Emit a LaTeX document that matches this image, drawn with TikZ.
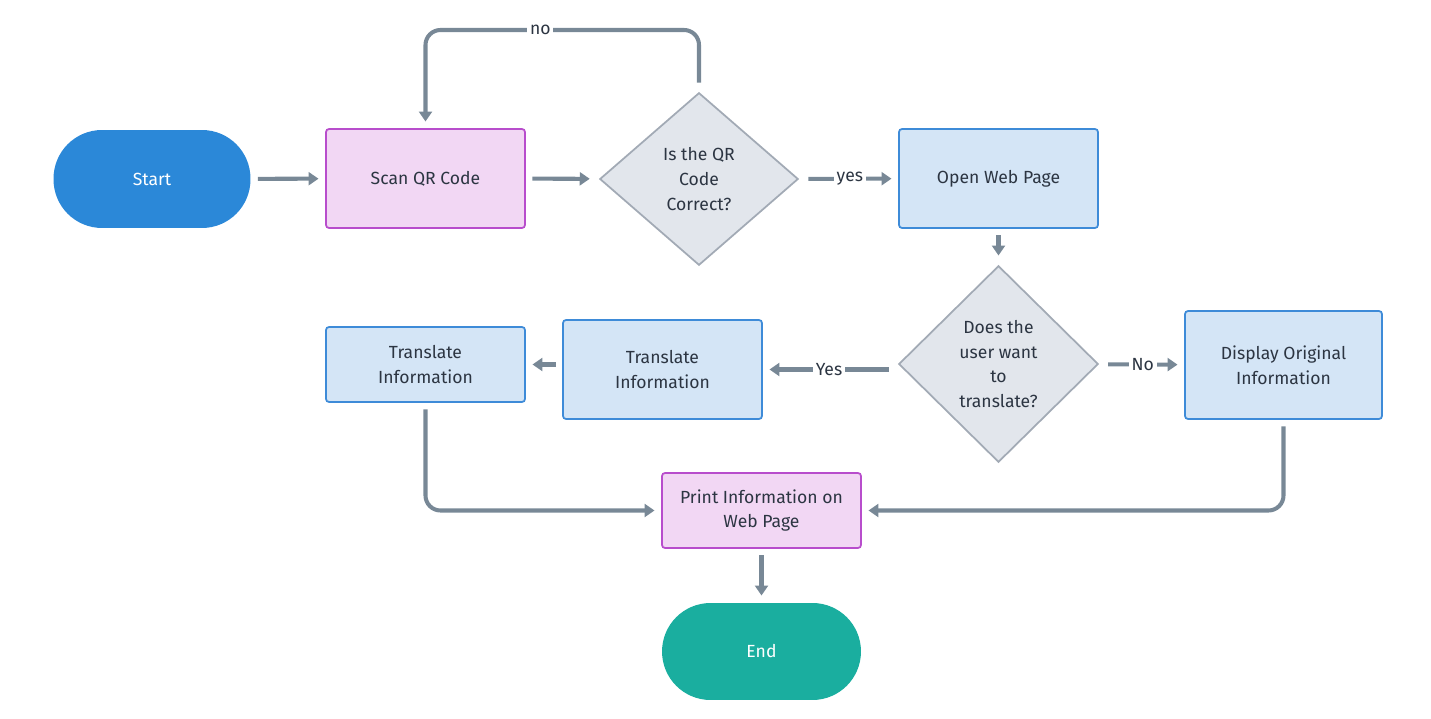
\documentclass[tikz,border=0pt]{standalone}
\usepackage{fontspec}
\setmainfont{Fira Sans}
\usetikzlibrary{shapes.geometric,arrows.meta}

\definecolor{startblue}{HTML}{2B88D8}
\definecolor{endteal}{HTML}{1AAE9F}
\definecolor{pinkfill}{HTML}{F2D7F4}
\definecolor{pinkline}{HTML}{B84DCC}
\definecolor{bluefill}{HTML}{D4E5F6}
\definecolor{blueline}{HTML}{3E8BD8}
\definecolor{greyfill}{HTML}{E2E6EC}
\definecolor{greyline}{HTML}{A2AAB5}
\definecolor{flowline}{HTML}{788896}
\definecolor{txt}{HTML}{2C3542}

\begin{document}
\begin{tikzpicture}[x=0.02cm, y=-0.02cm,
	every node/.style={font=\fontsize{10}{14}\selectfont, text=txt, align=center},
	term/.style={rectangle, rounded corners=0.97cm, minimum width=3.94cm, minimum height=1.96cm, outer sep=0.15cm, text=white},
	pinkbox/.style={rectangle, rounded corners=0.06cm, draw=pinkline, fill=pinkfill, line width=1pt, minimum width=3.98cm, outer sep=0.15cm},
	bluebox/.style={rectangle, rounded corners=0.06cm, draw=blueline, fill=bluefill, line width=1pt, minimum width=3.98cm, outer sep=0.15cm},
	decision/.style={diamond, draw=greyline, fill=greyfill, line width=1pt, inner sep=0pt, outer sep=0.15cm},
	flow/.style={draw=flowline, line width=2.3pt, ->, >={Triangle[length=0.2cm, width=0.26cm]}, rounded corners=0.3cm},
	lbl/.style={fill=white, inner sep=1.5pt, rounded corners=0pt}]
	\useasboundingbox (0, 0) rectangle (1431, 719);
	% \fill[white] (0, 0) rectangle (1431, 719);
	\node (start) at (152, 179) [term, fill=startblue] {Start};
	\node (scan) at (425.5, 178.5) [pinkbox, minimum height=1.98cm] {Scan QR Code};
	\node (qr) at (699, 179) [decision, minimum width=4.08cm, minimum height=3.56cm] {Is the QR\\Code\\Correct?};
	\node (open) at (998.5, 178.5) [bluebox, minimum height=1.98cm] {Open Web Page};
	\node (want) at (998.5, 364) [decision, minimum width=4.1cm, minimum height=4.04cm] {Does the\\user want\\to\\translate?};
	\node (disp) at (1283.5, 365) [bluebox, minimum width=3.94cm, minimum height=2.16cm] {Display Original\\Information};
	\node (transB) at (662.5, 369.5) [bluebox, minimum height=1.98cm] {Translate\\Information};
	\node (transA) at (425.5, 364.5) [bluebox, minimum height=1.5cm] {Translate\\Information};
	\node (print) at (761.5, 510.5) [pinkbox, minimum height=1.5cm] {Print Information on\\Web Page};
	\node (end) at (761.5, 651.5) [term, minimum width=3.98cm, minimum height=1.94cm, fill=endteal] {End};
	\coordinate (loop) at (560, 30);

	\draw[flow] (start) -- (scan);
	\draw[flow] (scan) -- (qr);
	\draw[flow] (qr) -- node[lbl]{yes} (open);
	\draw[flow] (qr.north) -- (qr.north |- loop) -- node[lbl, pos=.58]{no} (scan.north |- loop) -- (scan.north);
	\draw[flow] (open) -- (want);
	\draw[flow] (want) -- node[lbl]{No} (disp);
	\draw[flow] (want.west |- transB) -- node[lbl]{Yes} (transB);
	\draw[flow] (transB.west |- transA) -- (transA);
	\draw[flow] (transA.south) |- (print.west);
	\draw[flow] (disp.south) |- (print.east);
	\draw[flow] (print) -- (end);
\end{tikzpicture}
\end{document}
